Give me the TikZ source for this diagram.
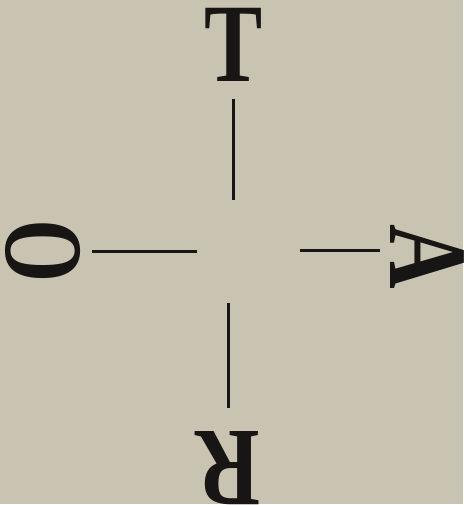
\documentclass[tikz,border=0pt]{standalone}
\usepackage{fontspec}
\setmainfont{Liberation Serif}
\usepackage{graphicx}
\usepackage{tikz}
\usetikzlibrary{positioning}

\definecolor{paper}{RGB}{201,195,178}
\definecolor{ink}{RGB}{24,22,20}

\begin{document}
\begin{tikzpicture}[
    x=1pt, y=-1pt,
    letter/.style={inner sep=0pt, text=ink, font=\fontsize{112}{112}\bfseries\selectfont},
    rule/.style={draw=ink, line width=3pt}
]
\fill[paper] (0,0) rectangle (464,505);

\coordinate (c) at (231,251);
\node[letter] (T) at (233.5,45) {\scalebox{0.78}[1]{T}};
\node[letter, rotate=90] (O) at (43.5,252) {\scalebox{0.72}[1]{O}};
\node[letter, rotate=-90] (A) at (427.5,257.5) {\scalebox{0.8}[1]{A}};
\node[letter, rotate=180] (R) at (228.5,469) {\scalebox{0.8}[1]{R}};

\draw[rule, shorten <=17pt, shorten >=51pt] (T) -- (T |- c);
\draw[rule, shorten <=52pt, shorten >=24pt] (R |- c) -- (R);
\draw[rule, shorten <=11pt, shorten >=34pt] (O) -- (O -| c);
\draw[rule, shorten <=69pt, shorten >=47.5pt] (c) -- (c -| A);
\end{tikzpicture}
\end{document}
